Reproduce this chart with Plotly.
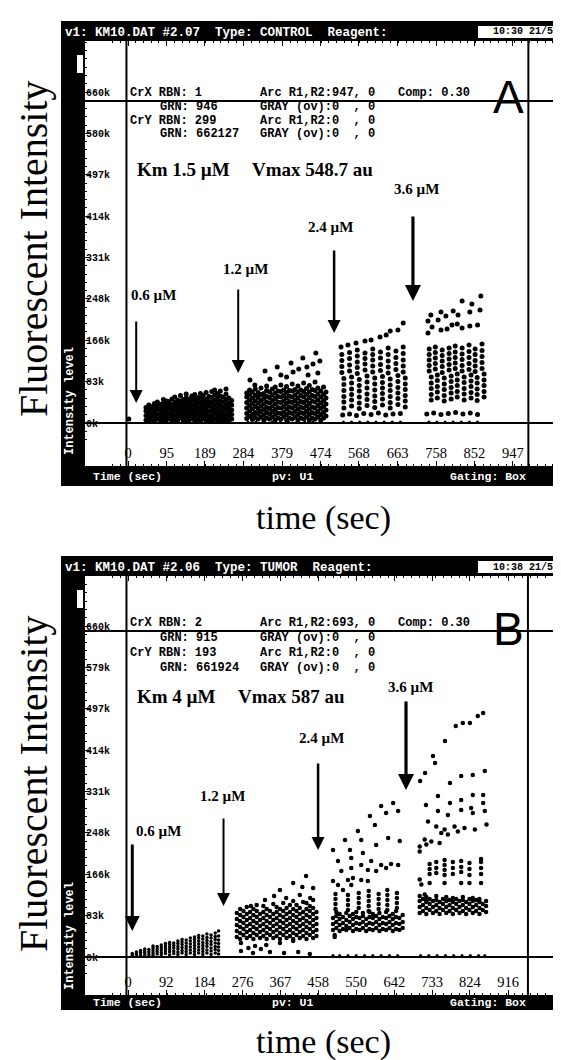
import plotly.graph_objects as go

W, H = 561, 1060
MONO = "Liberation Mono"
SERIF = "Liberation Serif"
SANS = "Liberation Sans"

# ---------------- tick definitions ----------------
a_x_ticks = [0, 95, 189, 284, 379, 474, 568, 663, 758, 852, 947]
b_x_ticks = [0, 92, 184, 276, 367, 458, 550, 642, 733, 824, 916]
y_tickvals = [0, 82.75, 165.5, 248.25, 331, 413.75, 496.5, 579.25, 662]
a_y_ticktext = ["0k", "83k", "166k", "248k", "331k", "414k", "497k", "580k", "660k"]
b_y_ticktext = ["0k", "83k", "166k", "248k", "331k", "414k", "497k", "579k", "660k"]

# ---------------- Panel A (CONTROL): (time s, [intensity k]) ----------------
a_seg1 = [
    (2, [8]),
    (44, [6, 15, 24, 31]), (51, [4, 12, 21, 29, 36]), (58, [9, 18, 26, 33]),
    (65, [5, 13, 22, 30, 39]), (72, [8, 17, 27, 35, 42]), (80, [4, 11, 20, 28, 37]),
    (87, [7, 16, 24, 33, 40, 47]), (94, [5, 14, 22, 30, 38, 44]), (101, [9, 18, 27, 35, 43]),
    (108, [4, 12, 20, 29, 37, 48]), (115, [7, 15, 25, 33, 41, 52]), (122, [5, 14, 22, 31, 40, 46]),
    (129, [10, 18, 26, 35, 44, 55]), (136, [4, 12, 21, 29, 38, 47]), (143, [7, 16, 24, 33, 42, 50, 58]),
    (150, [5, 13, 22, 31, 39, 48]), (157, [9, 17, 26, 35, 45, 54]), (164, [4, 12, 20, 29, 38, 47, 57]),
    (171, [7, 16, 24, 33, 42, 51]), (178, [5, 14, 23, 32, 40, 49, 59]), (185, [9, 18, 27, 36, 45, 55]),
    (192, [4, 12, 21, 30, 39, 48, 61]), (199, [7, 15, 24, 34, 43, 53]), (206, [5, 14, 23, 32, 41, 51, 63]),
    (213, [9, 18, 27, 36, 46, 56, 66]), (220, [4, 12, 21, 31, 40, 49, 59]), (227, [7, 16, 25, 35, 44, 54, 64]),
    (234, [5, 14, 23, 32, 42, 52]), (241, [9, 18, 28, 37, 47, 58, 68]), (248, [4, 13, 22, 31, 40, 50]),
    (255, [8, 17, 26, 36, 45]),
]
a_seg2 = [
    (292, [9, 19, 30, 41, 52, 60]), (299, [13, 24, 35, 46, 57, 66]), (306, [7, 17, 28, 39, 50, 62]),
    (313, [11, 21, 33, 44, 55, 68]), (320, [8, 19, 29, 40, 51, 61]), (327, [12, 23, 34, 45, 57, 70]),
    (334, [6, 16, 27, 38, 49, 59]), (341, [10, 21, 31, 42, 53, 65, 74]), (348, [8, 18, 29, 40, 51, 62]),
    (355, [12, 23, 34, 45, 56, 68]), (362, [6, 17, 27, 38, 49, 60, 72]), (369, [10, 20, 31, 42, 53, 64]),
    (376, [8, 19, 30, 41, 52, 63, 76]), (383, [12, 22, 33, 44, 55, 66]), (390, [6, 17, 28, 39, 50, 61, 73]),
    (397, [10, 21, 32, 43, 54, 65]), (404, [8, 19, 30, 41, 52, 64, 78]), (411, [12, 23, 34, 45, 56, 67]),
    (418, [6, 17, 28, 39, 50, 62, 74]), (425, [10, 21, 32, 43, 55, 66]), (432, [8, 19, 30, 41, 52, 63, 80]),
    (439, [12, 23, 34, 45, 57, 69]), (446, [6, 17, 28, 39, 51, 62, 75]), (453, [10, 21, 32, 44, 55, 67]),
    (460, [8, 19, 30, 42, 53, 65, 82]), (467, [12, 23, 35, 46, 58, 70]), (474, [6, 17, 29, 40, 52, 64]),
    (481, [10, 21, 33, 45, 57, 72]), (487, [14, 26, 38, 50, 62]),
]
a_seg2_top_t = [300, 312, 337, 349, 367, 376, 401, 406, 430, 440, 462, 472, 467, 443, 390, 420, 455]
a_seg2_top_v = [86, 76, 104, 88, 112, 96, 120, 102, 130, 112, 140, 124, 100, 96, 92, 108, 118]

a_seg3_top_t = [524, 541, 561, 583, 598, 620, 635, 645, 664, 677]
a_seg3_top_v = [152, 156, 160, 164, 166, 172, 176, 184, 186, 200]
a_seg3 = [
    (531, [30, 42, 53, 65, 77, 89]), (526, [101, 113, 125, 137]),
    (550, [34, 46, 57, 68, 80, 92]), (545, [104, 116, 129, 141]),
    (569, [29, 40, 52, 64, 75, 87]), (564, [99, 111, 122, 134, 146]),
    (588, [35, 47, 58, 70, 82, 94]), (583, [106, 118, 129, 140]),
    (607, [31, 43, 54, 66, 78, 90]), (602, [102, 114, 126, 137, 148]),
    (626, [36, 48, 59, 70, 81, 93]), (621, [105, 117, 130, 142]),
    (645, [30, 41, 53, 65, 76, 88]), (640, [100, 112, 124, 137, 150]),
    (664, [37, 49, 60, 71, 83, 95]), (659, [107, 119, 131, 144]),
    (682, [32, 44, 55, 67, 78, 90]), (677, [102, 114, 126, 139, 152]),
]
a_seg3_low_t = [528, 545, 562, 580, 598, 616, 634, 652, 670]
a_seg3_low_v = [16, 18, 15, 19, 17, 20, 16, 18, 19]

a_seg4_top_t = [738, 745, 763, 770, 782, 800, 812, 822, 841, 846, 868, 866]
a_seg4_top_v = [204, 216, 206, 222, 214, 224, 216, 244, 222, 238, 254, 226]
a_seg4_mid_t = [738, 748, 770, 785, 797, 810, 822, 841, 860]
a_seg4_mid_v = [180, 192, 186, 188, 196, 198, 190, 194, 196]
a_seg4 = [
    (746, [46, 57, 69, 80, 92]), (741, [104, 115, 126, 137, 148]),
    (761, [50, 62, 73, 85, 96]), (756, [108, 119, 130, 141, 152]),
    (778, [44, 55, 67, 78, 90]), (773, [101, 113, 124, 135, 146]),
    (795, [48, 60, 71, 83, 94]), (790, [106, 117, 128, 139, 150]),
    (810, [52, 63, 75, 86, 98]), (805, [109, 120, 131, 142, 154]),
    (827, [46, 58, 69, 81, 92]), (822, [104, 115, 127, 138, 150]),
    (844, [50, 61, 73, 84, 96]), (839, [107, 119, 131, 143, 156]),
    (859, [45, 57, 68, 80, 91]), (854, [103, 114, 125, 137, 148]),
    (876, [52, 63, 75, 86, 98]), (871, [109, 121, 133, 145, 158]),
]
a_seg4_low_t = [735, 752, 770, 788, 806, 824, 842, 860]
a_seg4_low_v = [18, 20, 17, 19, 21, 18, 20, 17]
a_base_t = [60, 90, 120, 150, 180, 210, 240, 295, 315, 335, 355, 375, 395, 415, 435, 455, 475,
            530, 550, 570, 590, 610, 630, 650, 670, 740, 760, 780, 800, 820, 840, 860]

a_arrow_t = [20, 271, 507, 701]
a_arrow_v = [40, 100, 180, 244]
a_arrow_len = [83, 85, 84, 86]
a_arrow_w = [2, 2, 2.5, 3.2]

# ---------------- Panel B (TUMOR) ----------------
b_seg1 = [
    (10, [3, 7]), (20, [2, 6, 10]), (30, [4, 9, 13]), (40, [3, 8, 12, 16]), (50, [5, 10, 15]),
    (60, [3, 8, 13, 18, 22]), (70, [6, 11, 16, 21]), (80, [4, 9, 14, 19, 24]),
    (90, [7, 12, 17, 22, 27]), (100, [4, 10, 15, 20, 25, 29]), (110, [7, 12, 18, 23, 28]),
    (120, [5, 10, 16, 21, 27, 32]), (130, [8, 13, 19, 25, 30, 35]), (140, [5, 11, 17, 22, 28, 34]),
    (150, [8, 14, 20, 26, 32, 38]), (160, [5, 11, 17, 23, 29, 35, 40]), (170, [8, 14, 20, 26, 32, 38, 43]),
    (180, [5, 11, 17, 23, 29, 36, 42]), (190, [8, 14, 21, 27, 33, 39, 46]), (200, [5, 12, 18, 25, 31, 38, 44]),
    (210, [8, 15, 21, 28, 35, 41, 48]), (218, [6, 13, 20, 27, 34, 42, 52]),
]
b_seg2 = [
    (262, [40, 52, 64, 76, 88]), (270, [36, 48, 60, 72, 84, 96]), (278, [44, 56, 68, 80, 92]),
    (286, [38, 50, 62, 74, 86, 100]), (294, [42, 54, 66, 78, 90]), (302, [36, 48, 60, 72, 84, 96]),
    (310, [44, 56, 68, 80, 92, 104]), (318, [38, 50, 62, 74, 86]), (326, [42, 54, 66, 78, 90, 102]),
    (334, [36, 48, 60, 72, 84, 96]), (342, [44, 56, 68, 80, 92]), (350, [38, 50, 62, 74, 86, 106]),
    (358, [42, 54, 66, 78, 90, 100]), (366, [36, 48, 60, 72, 84, 96]), (374, [44, 56, 68, 80, 92, 108]),
    (382, [38, 50, 62, 74, 86, 98]), (390, [42, 54, 66, 78, 90, 104]), (398, [36, 48, 60, 72, 84, 96, 112]),
    (406, [44, 56, 68, 80, 92, 104]), (414, [38, 50, 62, 74, 86, 98]), (422, [42, 54, 66, 78, 90, 110]),
    (430, [36, 48, 60, 72, 84, 96, 108]), (438, [44, 56, 68, 80, 92, 102]),
    (446, [38, 50, 62, 74, 86, 98, 114]), (454, [42, 54, 66, 78, 90]),
]
b_seg2_top_t = [296, 330, 366, 381, 398, 414, 429, 439, 446, 352, 420]
b_seg2_top_v = [102, 114, 134, 118, 148, 124, 162, 118, 138, 122, 140]
b_seg2_low_t = [272, 306, 333, 366, 398, 272, 301, 342, 376, 410, 438, 290, 320]
b_seg2_low_v = [28, 22, 24, 28, 32, 12, 8, 10, 8, 10, 6, 18, 16]

b_seg3_top_t = [494, 523, 554, 583, 610, 639, 622, 651, 595, 562, 535, 627, 655, 598, 566, 538]
b_seg3_top_v = [214, 234, 252, 282, 302, 308, 288, 292, 264, 234, 214, 238, 232, 224, 208, 198]
b_seg3_mid_t = [506, 514, 538, 542, 562, 578, 586, 598, 610, 622, 634, 651, 578, 562, 530, 506, 494, 518, 538]
b_seg3_mid_v = [192, 172, 178, 158, 184, 174, 192, 172, 184, 178, 186, 184, 152, 154, 154, 144, 152, 134, 144]
b_seg3_cols = [
    (500, [96, 106, 116, 126]), (530, [94, 104, 114, 124]), (556, [98, 108, 118, 128]),
    (580, [92, 102, 112, 122, 132]), (604, [96, 106, 116, 126]), (625, [94, 104, 114, 124, 134]),
    (648, [98, 108, 118, 128]),
]
b_seg3_dense = [
    (494, [54, 66, 78]), (502, [58, 70, 82, 90]), (510, [52, 64, 76, 86]), (518, [56, 68, 80]),
    (526, [54, 62, 74, 88]), (534, [58, 70, 82]), (542, [52, 64, 76, 86]), (550, [56, 68, 80, 90]),
    (558, [54, 66, 78]), (566, [58, 70, 82, 88]), (574, [52, 64, 76]), (582, [56, 68, 80, 90]),
    (590, [54, 66, 78, 86]), (598, [58, 70, 82]), (606, [52, 64, 76, 88]), (614, [56, 68, 80]),
    (622, [54, 66, 78, 90]), (630, [58, 70, 82]), (638, [52, 64, 76, 86]), (646, [56, 68, 80, 92]),
    (654, [54, 66, 78]), (662, [58, 70, 84]), (498, [40, 44]),
]

b_seg4_top_t = [704, 716, 735, 740, 764, 790, 807, 824, 843, 856]
b_seg4_top_v = [352, 368, 402, 388, 432, 462, 468, 468, 482, 488]
b_seg4_d2_t = [718, 747, 776, 803, 831, 860, 776, 803, 831, 856, 747, 771, 803, 827, 856, 860, 831]
b_seg4_d2_v = [304, 322, 348, 362, 364, 372, 308, 314, 324, 324, 292, 284, 294, 298, 308, 292, 288]
b_seg4_d3_t = [723, 743, 755, 763, 787, 811, 836, 864, 715, 731, 751, 703, 703, 719, 771, 795]
b_seg4_d3_v = [271, 261, 248, 255, 261, 258, 255, 265, 235, 231, 228, 221, 211, 225, 245, 251]
b_seg4_cols = [
    (727, [166, 176, 186, 148]), (743, [168, 178, 190]), (763, [164, 174, 184, 194, 148]),
    (783, [166, 178, 190]), (803, [170, 180, 192, 148]), (823, [164, 176, 188, 148]),
    (851, [166, 178, 190, 196, 148]), (703, [155]), (707, [145]), (715, [125]), (719, [112]),
]
b_seg4_dense = [
    (703, [88, 100, 112, 122]), (711, [92, 104, 116]), (719, [86, 98, 110, 120]), (727, [94, 106, 116]),
    (735, [88, 100, 112]), (743, [92, 104, 114, 122]), (751, [86, 98, 110]), (759, [94, 106, 116]),
    (767, [88, 100, 112, 120]), (775, [92, 104, 114]), (783, [86, 98, 110, 118]), (791, [94, 106, 116]),
    (799, [88, 100, 112]), (807, [92, 104, 114, 120]), (815, [86, 98, 110]), (823, [94, 106, 116]),
    (831, [88, 100, 112, 118]), (839, [92, 104, 114]), (847, [86, 98, 110, 116]), (855, [94, 106]),
    (863, [90, 102, 112]),
]
b_base_t = [494, 510, 530, 550, 570, 590, 610, 630, 650, 705, 725, 745, 765, 785, 805, 825, 845, 860]

b_arrow_t = [10, 230, 458, 670]
b_arrow_v = [52, 102, 214, 334]
b_arrow_len = [88, 89, 88, 90]
b_arrow_w = [3, 2, 2.5, 3.2]

conc_labels = ["0.6 µM", "1.2 µM", "2.4 µM", "3.6 µM"]


def flatten(cols):
    xs, ys = [], []
    for t, vals in cols:
        for v in vals:
            xs.append(t)
            ys.append(v)
    return xs, ys


fig = go.Figure()


def add_pts(xs, ys, xa, ya, size):
    fig.add_trace(go.Scatter(x=xs, y=ys, mode="markers", xaxis=xa, yaxis=ya,
                             marker=dict(color="black", size=size, line=dict(width=0)),
                             hoverinfo="skip", showlegend=False))


# panel A traces
for cols in (a_seg1, a_seg2, a_seg3, a_seg4):
    xs, ys = flatten(cols)
    add_pts(xs, ys, "x", "y", 5)
for xs, ys in ((a_seg2_top_t, a_seg2_top_v), (a_seg3_top_t, a_seg3_top_v), (a_seg3_low_t, a_seg3_low_v),
               (a_seg4_top_t, a_seg4_top_v), (a_seg4_mid_t, a_seg4_mid_v), (a_seg4_low_t, a_seg4_low_v)):
    add_pts(xs, ys, "x", "y", 5)
add_pts(a_base_t, [2] * len(a_base_t), "x", "y", 3)

# panel B traces
xs, ys = flatten(b_seg1)
add_pts(xs, ys, "x2", "y2", 3.5)
for cols in (b_seg2, b_seg3_cols, b_seg3_dense, b_seg4_cols, b_seg4_dense):
    xs, ys = flatten(cols)
    add_pts(xs, ys, "x2", "y2", 4.5)
for xs, ys in ((b_seg2_top_t, b_seg2_top_v), (b_seg2_low_t, b_seg2_low_v), (b_seg3_top_t, b_seg3_top_v),
               (b_seg3_mid_t, b_seg3_mid_v), (b_seg4_top_t, b_seg4_top_v), (b_seg4_d2_t, b_seg4_d2_v),
               (b_seg4_d3_t, b_seg4_d3_v)):
    add_pts(xs, ys, "x2", "y2", 4.5)
add_pts(b_base_t, [3] * len(b_base_t), "x2", "y2", 3)


def PX(x):
    return x / W


def PY(y):
    return 1 - y / H


shapes = []
annotations = []


def rect(x0, y0, x1, y1, color):
    shapes.append(dict(type="rect", xref="paper", yref="paper", x0=PX(x0), x1=PX(x1), y0=PY(y1), y1=PY(y0),
                       fillcolor=color, line=dict(width=0), layer="above"))


def txt(x, y, s, size, color="black", family=MONO, weight="bold", xanchor="left", angle=0):
    annotations.append(dict(x=PX(x), y=PY(y), xref="paper", yref="paper", text=s, showarrow=False,
                            font=dict(family=family, size=size, color=color, weight=weight),
                            xanchor=xanchor, yanchor="middle", textangle=angle))


km_x2 = {"A": 242, "B": 228}


def panel(top, bot_white, bot, off, title, clock, hdr, letter, km, vmax, km_y, conc_pos, xa, ya,
          gate_r, gate_top, at, av, alen, aw):
    # black frame parts
    rect(53, top, 561, top + 20, "black")
    rect(53, bot_white, 561, bot, "black")
    rect(53, top, 77, bot, "black")
    rect(69, top + 34, 75, top + 52, "white")
    rect(470, top + 5, 561, top + 17, "white")
    txt(55, top + 12, title, 12.5, color="white")
    txt(515, top + 11, clock, 10, xanchor="center")
    txt(62, top + 380, "Intensity level", 12, color="white", xanchor="center", angle=-90)
    mid = (bot_white + bot) / 2
    txt(83, mid, "Time (sec)", 11.5, color="white")
    txt(262, mid, "pv: U1", 11.5, color="white")
    txt(440, mid, "Gating: Box", 11.5, color="white")
    # header block
    for (x, dy, s) in hdr:
        txt(x, top + dy, s, 12)
    txt(500, top + off, letter, 46, family=SANS, weight="normal", xanchor="center")
    txt(127, km_y, km, 19, family=SERIF)
    txt(km_x2[letter], km_y, vmax, 19, family=SERIF)
    for (cx, cy), lab in zip(conc_pos, conc_labels):
        txt(cx, cy, lab, 15, family=SERIF, xanchor="center")
    # outer labels
    txt(25, top + 228, "Fluorescent Intensity", 40, family=SERIF, weight="normal", xanchor="center", angle=-90)
    txt(315, bot + 32, "time (sec)", 34, family=SERIF, weight="normal", xanchor="center")
    # gate lines
    yd = ya + " domain"
    xd = xa + " domain"
    for gx in (-4, gate_r):
        shapes.append(dict(type="line", xref=xa, yref=yd, x0=gx, x1=gx, y0=0, y1=1,
                           line=dict(color="black", width=2)))
    for gy in (0, gate_top):
        shapes.append(dict(type="line", xref=xd, yref=ya, x0=0, x1=1, y0=gy, y1=gy,
                           line=dict(color="black", width=2)))
    # arrows
    for t, v, ln, w in zip(at, av, alen, aw):
        annotations.append(dict(x=t, y=v, xref=xa, yref=ya, ax=0, ay=-ln, text="", showarrow=True,
                                arrowhead=2, arrowsize=max(1.0, 2.6 / w), arrowwidth=w, arrowcolor="black",
                                standoff=0))


a_hdr = [(120, 72, "CrX RBN: 1"), (250, 72, "Arc R1,R2:947, 0"), (388, 72, "Comp: 0.30"),
         (150, 86, "GRN: 946"), (250, 86, "GRAY (ov):0  , 0"),
         (120, 100, "CrY RBN: 299"), (250, 100, "Arc R1,R2:0  , 0"),
         (150, 113, "GRN: 662127"), (250, 113, "GRAY (ov):0  , 0")]
b_hdr = [(120, 67, "CrX RBN: 2"), (250, 67, "Arc R1,R2:693, 0"), (388, 67, "Comp: 0.30"),
         (150, 82, "GRN: 915"), (250, 82, "GRAY (ov):0  , 0"),
         (120, 97, "CrY RBN: 193"), (250, 97, "Arc R1,R2:0  , 0"),
         (150, 112, "GRN: 661924"), (250, 112, "GRAY (ov):0  , 0")]

panel(13, 458, 478, 76, "v1: KM10.DAT #2.07  Type: CONTROL  Reagent:", "10:30 21/5", a_hdr, "A",
      "Km 1.5 µM", "Vmax 548.7 au", 162,
      [(145, 287), (237, 261), (322, 219), (408, 181)], "x", "y", 985, 644,
      a_arrow_t, a_arrow_v, a_arrow_len, a_arrow_w)
panel(548, 987, 1002, 73, "v1: KM10.DAT #2.06  Type: TUMOR  Reagent:", "10:38 21/5", b_hdr, "B",
      "Km 4 µM", "Vmax 587 au", 688,
      [(150, 823), (214, 788), (313, 730), (402, 679)], "x2", "y2", 964, 652,
      b_arrow_t, b_arrow_v, b_arrow_len, b_arrow_w)


def xaxis(anchor, rng, ticks):
    return dict(domain=[77 / W, 1], range=rng, anchor=anchor, tickmode="array", tickvals=ticks,
                ticktext=[str(t) for t in ticks], ticks="inside", ticklen=5, tickcolor="black",
                ticklabelposition="inside", tickfont=dict(family=SERIF, size=14.5, color="black"),
                showgrid=False, zeroline=False, showline=False, mirror="ticks", fixedrange=True,
                minor=dict(ticks="inside", ticklen=2, tickcolor="black", tickmode="linear", tick0=0,
                           dtick=19, showgrid=False))


def yaxis(anchor, dom, rng, ttext):
    return dict(domain=dom, range=rng, anchor=anchor, tickmode="array", tickvals=y_tickvals, ticktext=ttext,
                ticks="inside", ticklen=5, tickcolor="black", ticklabelposition="inside",
                ticklabelstandoff=-5,
                tickfont=dict(family=MONO, size=10, color="black", weight="bold"),
                showgrid=False, zeroline=False, showline=False, mirror="ticks", fixedrange=True,
                minor=dict(ticks="inside", ticklen=2, tickcolor="black", tickmode="linear", tick0=0,
                           dtick=16.55, showgrid=False))


fig.update_layout(
    width=W, height=H, autosize=False, margin=dict(l=0, r=0, t=0, b=0),
    paper_bgcolor="white", plot_bgcolor="white", showlegend=False,
    xaxis=xaxis("y", [-106, 1085], a_x_ticks),
    yaxis=yaxis("x", [1 - 458 / H, 1 - 33 / H], [-86, 764], a_y_ticktext),
    xaxis2=xaxis("y2", [-104, 1063], b_x_ticks),
    yaxis2=yaxis("x2", [1 - 987 / H, 1 - 568 / H], [-76, 762], b_y_ticktext),
    shapes=shapes, annotations=annotations,
)

fig.write_html("out.html")
